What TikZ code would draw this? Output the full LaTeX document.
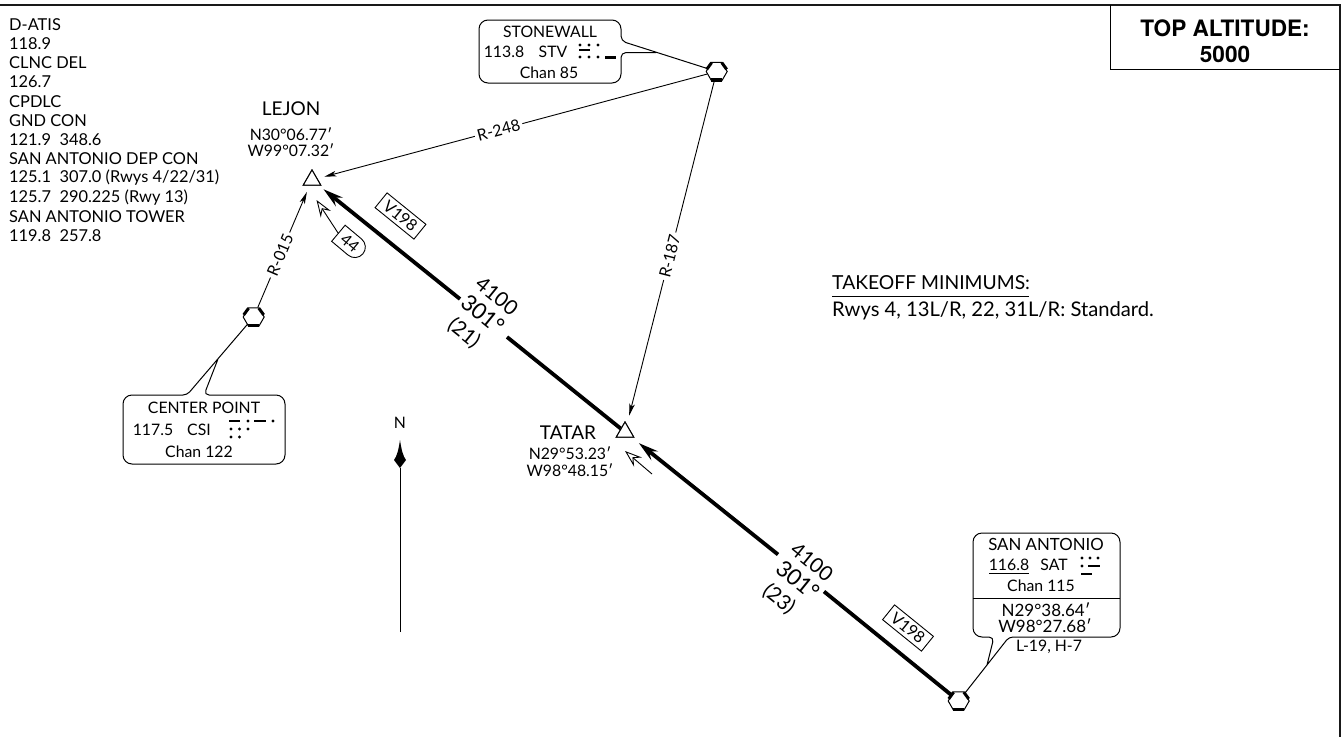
\documentclass[tikz,border=0pt]{standalone}
\usepackage{fontspec}
\setmainfont{Lato}
\newfontfamily\heros{TeX Gyre Heros}
\usetikzlibrary{arrows.meta,shapes.geometric,shapes.misc}
\newcommand{\fsz}[1]{\fontsize{#1}{#1}\selectfont}
\tikzset{
  x=1pt,y=-1pt,
  frameline/.style={line width=2.6pt,black!90},
  thinline/.style={line width=1pt,black},
  txt/.style={inner sep=0pt,font=\fsz{15.8}},
  listtxt/.style={inner sep=0pt,anchor=west,font=\fsz{16.4}},
  coordtxt/.style={inner sep=0pt,font=\fsz{17}},
  bigtxt/.style={inner sep=0pt,font=\fsz{19}},
  rlabel/.style={inner sep=2.5pt,fill=white,font=\fsz{16},sloped},
  route/.style={inner sep=0pt,font=\fsz{20.5},rotate=-39},
  routebig/.style={inner sep=0pt,font=\fsz{22.5},rotate=-39},
  titletxt/.style={inner sep=0pt,font=\heros\bfseries\fsz{22.6}},
  minstxt/.style={inner sep=0pt,anchor=west,font=\fsz{20.2}},
  thinarrow/.style={line width=0.9pt,-{Stealth[length=12pt,width=5.5pt,inset=3pt]}},
  airway/.style={line width=3.8pt,-{Stealth[length=20pt,width=11pt,inset=7pt]}},
  hollow/.style={line width=0.9pt,-{Stealth[open,fill=white,length=17pt,width=12pt,inset=6pt,line width=0.9pt]}},
  tri/.style={draw,line width=1pt,fill=white,regular polygon,regular polygon sides=3,minimum size=20pt,inner sep=0pt},
  hexa/.style={draw,line width=1pt,fill=white,regular polygon,regular polygon sides=6,minimum size=21pt,inner sep=0pt},
  airbox/.style={draw,line width=0.9pt,fill=white,font=\fsz{16},inner sep=0pt,minimum width=50pt,minimum height=19pt,rotate=-39},
  callout/.style={thinline,rounded corners=9pt},
  morse/.style={line width=2.4pt},
}
\newcommand{\vorthick}[1]{%
  \draw[line width=3.4pt,shift={(#1.center)}] (238:10pt)--(302:10pt);
  \draw[line width=3pt,shift={(#1.center)}] (60:10.2pt)--(12:10.2pt);
  \draw[line width=3pt,shift={(#1.center)}] (120:10.2pt)--(168:10.2pt);
}
\newcommand{\dotsat}[2]{\foreach \px in {#1}{\fill (\px,#2) circle (1.6pt);}}
\newcommand{\dashat}[3]{\draw[morse] (#1,#3) -- (#2,#3);}
\begin{document}
\begin{tikzpicture}
\useasboundingbox (0,0) rectangle (1342,737);
% frame
\coordinate (fa) at (0,5); \coordinate (fb) at (1340,5); \coordinate (fc) at (1340,737);
\draw[frameline] (fa) -- (fb) -- (fc);
\coordinate (ta) at (1110.5,5); \coordinate (tb) at (1110.5,69.5); \coordinate (tc) at (1340,69.5);
\draw[line width=1.2pt] (ta) -- (tb) -- (tc);
\node[titletxt] (topa) at (1225,28) {TOP ALTITUDE:};
\node[titletxt] (topb) at (1225,54) {5000};
% comm list
\node[listtxt] (c1) at (9,25) {D-ATIS};
\node[listtxt] (c2) at (9,43.5) {118.9};
\node[listtxt] (c3) at (9,63) {CLNC DEL};
\node[listtxt] (c4) at (9,82) {126.7};
\node[listtxt] (c5) at (9,101.5) {CPDLC};
\node[listtxt] (c6) at (9,120.5) {GND CON};
\node[listtxt] (c7) at (9,140) {121.9\ \ 348.6};
\node[listtxt] (c8) at (9,159) {SAN ANTONIO DEP CON};
\node[listtxt] (c9) at (9,178) {125.1\ \ 307.0 (Rwys 4/22/31)};
\node[listtxt] (c10) at (9,197.5) {125.7\ \ 290.225 (Rwy 13)};
\node[listtxt] (c11) at (9,216.5) {SAN ANTONIO TOWER};
\node[listtxt] (c12) at (9,236) {119.8\ \ 257.8};
% fixes
\node[hexa] (stv) at (716.7,71.5) {};
\node[hexa] (csi) at (253.7,317) {};
\node[hexa] (sat) at (958.7,701) {};
\node[tri] (lej) at (312,180) {};
\node[tri] (tat) at (625,432) {};
% radials
\draw[thinarrow,shorten >=7pt] (stv) -- node[rlabel,pos=.535] (r248) {R-248} (lej);
\draw[thinarrow,shorten >=9pt] (stv) -- node[rlabel,pos=.51] (r187) {R-187} (tat);
\draw[thinarrow,shorten >=7pt] (csi) -- node[rlabel,pos=.43] (r015) {R-015} (lej);
% airways
\coordinate (g1) at (460,299); \coordinate (g2) at (507,337);
\coordinate (g3) at (778,554.5); \coordinate (g4) at (824,591.5);
\draw[airway,shorten >=6pt] (g1) -- (lej);
\draw[line width=3.8pt] (g2) -- (tat);
\draw[airway,shorten >=9pt] (g3) -- (tat);
\draw[line width=3.8pt] (g4) -- (sat);
\node[tri] at (tat) {};
\node[tri] at (lej) {};
% route labels
\node[route] (ra) at (497,296) {4100};
\node[routebig] (rb) at (483,314) {301°};
\node[route] (rc) at (464,333) {(21)};
\node[route] (rd) at (812,562) {4100};
\node[routebig] (re) at (798,580) {301°};
\node[route] (rf) at (779,599) {(23)};
\node[airbox] (v1) at (400.5,216) {V198};
\node[airbox] (v2) at (908,628) {V198};
% hollow arrows
\node[draw,line width=.9pt,rounded rectangle,rounded rectangle left arc=none,minimum width=32pt,minimum height=21pt,inner sep=0pt,rotate=-40,font=\fsz{16}] (b44) at (350,243) {44};
\coordinate (h44) at (316.5,200);
\draw[hollow] (b44.west) -- (h44);
\coordinate (htb) at (652,474); \coordinate (hta) at (625,451);
\draw[hollow] (htb) -- (hta);
% stonewall callout
\draw[callout] (656,52.5) [rounded corners=5pt] -- (621,52.5) [rounded corners=9pt] -- (621,83) -- (479,83) -- (479,20) -- (621,20) [rounded corners=5pt] -- (621,41) -- (stv);
\node[txt] (s1) at (550,32) {STONEWALL};
\node[txt] (s2) at (504,52) {113.8};
\node[txt] (s3) at (553,52) {STV};
\node[txt] (s4) at (549,73) {Chan 85};
\dotsat{580,589,598}{45}\dashat{579}{590}{50}\dotsat{580,589,598}{57}\dashat{605}{616}{57.5}
% center point callout
\draw[callout] (218,359) [rounded corners=5pt] -- (204,395) [rounded corners=9pt] -- (285,395) -- (285,464) -- (123,464) -- (123,395) [rounded corners=4pt] -- (187,395) -- (csi);
\node[txt] (p1) at (204,408) {CENTER POINT};
\node[txt] (p2) at (153,430) {117.5};
\node[txt] (p3) at (199,430) {CSI};
\node[txt] (p4) at (199,452) {Chan 122};
\dashat{229}{240}{421}\dotsat{248}{421}\dashat{254}{266}{421}\dotsat{273}{421}
\dotsat{231,239.5,248}{429}\dotsat{231,239.5}{437}
% san antonio callout
\draw[callout] (987,665) [rounded corners=5pt] -- (994,637) [rounded corners=9pt] -- (973,637) -- (973,533) -- (1120,533) -- (1120,637) [rounded corners=4pt] -- (1009,637) -- (sat);
\coordinate (da) at (973,598); \coordinate (db) at (1120,598);
\draw[thinline] (da) -- (db);
\node[txt,font=\fsz{16.8}] (a1) at (1046,544) {SAN ANTONIO};
\node[txt] (a2) at (1009,565) {116.8};
\coordinate (ua) at (989,573); \coordinate (ub) at (1029,573);
\draw[line width=.8pt] (ua) -- (ub);
\node[txt] (a3) at (1054,565) {SAT};
\node[txt] (a4) at (1041,586) {Chan 115};
\node[coordtxt] (a5) at (1046,610) {N29°38.64′};
\node[coordtxt] (a6) at (1045,626) {W98°27.68′};
\node[txt] (a7) at (1049,647) {L-19, H-7};
\dotsat{1082,1090,1098}{558}\dotsat{1082}{566}\dashat{1088}{1100}{566}\dashat{1081}{1092}{574}
% names
\node[bigtxt] (ln) at (291,109) {LEJON};
\node[txt] (la) at (291,134) {N30°06.77′};
\node[txt] (lb) at (291,150) {W99°07.32′};
\node[bigtxt] (tn) at (568,433) {TATAR};
\node[txt] (tla) at (570,453) {N29°53.23′};
\node[txt] (tlb) at (570,470) {W98°48.15′};
% north
\node[txt] (nn) at (400,423) {N};
\coordinate (na) at (400,632); \coordinate (nb) at (400,468);
\draw[line width=.9pt] (na) -- (nb);
\fill (400,440) .. controls (401.5,450) and (403,456) .. (406,460) -- (400,468) -- (394,460) .. controls (397,456) and (398.5,450) .. (400,440) -- cycle;
% takeoff
\node[minstxt,font=\fsz{19.3}] (to1) at (832,283) {TAKEOFF MINIMUMS:};
\coordinate (oa) at (832,296.5); \coordinate (ob) at (1029,296.5);
\draw[line width=.9pt] (oa) -- (ob);
\node[minstxt] (to2) at (832,310.5) {Rwys 4, 13L/R, 22, 31L/R: Standard.};
% VOR thick marks
\vorthick{stv}\vorthick{csi}\vorthick{sat}
\end{tikzpicture}
\end{document}
